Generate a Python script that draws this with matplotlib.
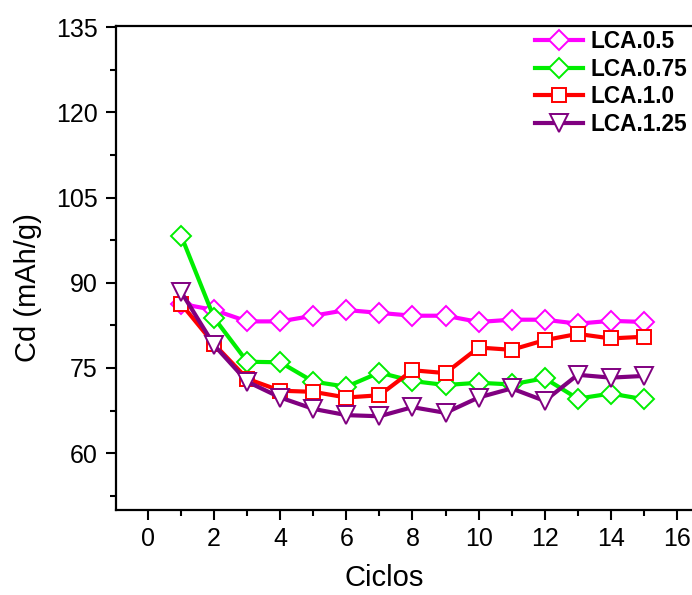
import matplotlib
matplotlib.use("Agg")
import matplotlib.pyplot as plt
from matplotlib.ticker import MultipleLocator

plt.rcParams['font.family'] = ['Liberation Sans', 'DejaVu Sans']

# 数据
ciclos = list(range(1, 16))
lca_05 = [86.3, 85.2, 83.2, 83.2, 84.2, 85.2, 84.7, 84.2, 84.2, 83.1, 83.5, 83.5, 82.8, 83.3, 83.1]
lca_075 = [98.3, 83.8, 76.1, 76.0, 72.6, 71.7, 74.2, 72.7, 72.0, 72.4, 72.1, 73.2, 69.6, 70.5, 69.5]
lca_10 = [86.3, 79.2, 73.1, 71.0, 70.8, 69.8, 70.2, 74.6, 74.1, 78.6, 78.2, 79.9, 81.0, 80.2, 80.5]
lca_125 = [88.4, 79.0, 72.6, 69.8, 67.8, 66.7, 66.5, 68.1, 67.1, 69.8, 71.4, 69.2, 73.8, 73.3, 73.6]

series = [
    ("LCA.0.5", lca_05, '#ff00ff', 'D', 10),
    ("LCA.0.75", lca_075, '#00ee00', 'D', 10),
    ("LCA.1.0", lca_10, '#ff0000', 's', 10),
    ("LCA.1.25", lca_125, '#800080', 'v', 13),
]

fig = plt.figure(figsize=(6.92, 5.95), dpi=100)
ax = fig.add_axes([116 / 692, 85 / 595, 584 / 692, 484 / 595])

for label, vals, color, marker, ms in series:
    ax.plot(ciclos, vals, color=color, lw=3, marker=marker, ms=ms,
            mfc='white', mec=color, mew=1.4, label=label)

ax.set_xlim(-0.97, 16.7)
ax.set_ylim(50, 135.2)
ax.xaxis.set_major_locator(MultipleLocator(2))
ax.xaxis.set_minor_locator(MultipleLocator(1))
ax.set_yticks([60, 75, 90, 105, 120, 135])
ax.yaxis.set_minor_locator(MultipleLocator(7.5))
ax.tick_params(which='major', direction='out', length=7, width=1.5, labelsize=18)
ax.tick_params(which='minor', direction='out', length=4, width=1.5)
ax.tick_params(axis='x', which='major', pad=5)
ax.tick_params(axis='y', which='major', pad=6)
for s in ax.spines.values():
    s.set_linewidth(1.6)
ax.spines['right'].set_visible(False)

ax.set_xlabel('Ciclos', fontsize=21)
ax.set_ylabel('Cd (mAh/g)', fontsize=21)
ax.xaxis.set_label_coords(0.459, -0.112)
ax.yaxis.set_label_coords(-0.1267, 0.46)

ax.legend(loc='upper left', bbox_to_anchor=(535 / 692, (595 - 30) / 595),
          bbox_transform=fig.transFigure, frameon=False,
          prop={'weight': 'bold', 'size': 16.3}, handlelength=2.1,
          handletextpad=0.33, labelspacing=0.2, borderpad=0, borderaxespad=0)

fig.savefig('out.png', dpi=100)
